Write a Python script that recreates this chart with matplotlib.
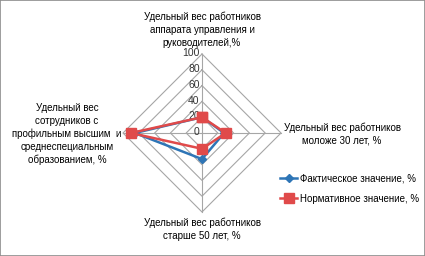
import numpy as np
import matplotlib.pyplot as plt

plt.rcParams['font.family'] = ['Liberation Sans', 'DejaVu Sans']

# категории по часовой стрелке, начиная сверху
kategorie = [
    'Удельный вес работников\nаппарата управления и\nруководителей,%',
    'Удельный вес работников\nмоложе 30 лет, %',
    'Удельный вес работников\nстарше 50 лет, %',
    'Удельный вес\nсотрудников с\nпрофильным высшим  и\nсреднеспециальным\nобразованием, %',
]
fakt = [20, 28, 33, 85]
norma = [20, 30, 20, 90]
poziomy = [0, 20, 40, 60, 80, 100]
serie_nazwy = ['Фактическое значение, %', 'Нормативное значение, %']

W, H = 425, 256
CX, CY, R = 202, 123, 79  # środek wykresu w pikselach (od dołu)

fig = plt.figure(figsize=(W / 100, H / 100), dpi=100)
ax = fig.add_axes([0, 0, 1, 1])
s = 100 / R
ax.set_xlim(-CX * s, (W - CX) * s)
ax.set_ylim(-CY * s, (H - CY) * s)
ax.axis('off')

n = len(kategorie)
kat = np.pi / 2 - np.arange(n) * 2 * np.pi / n


def xy(vals):
    v = np.asarray(vals, dtype=float)
    x = v * np.cos(kat)
    y = v * np.sin(kat)
    return np.append(x, x[0]), np.append(y, y[0])


# siatka wielokątna
for p in poziomy[1:]:
    gx, gy = xy([p] * n)
    ax.plot(gx, gy, color='#A6A6A6', lw=0.8, zorder=1)
for a in kat:
    ax.plot([0, 100 * np.cos(a)], [0, 100 * np.sin(a)], color='#A6A6A6', lw=0.8, zorder=1)

# etykiety osi
for p in poziomy:
    ax.text(-3, p + 1, str(p), ha='right', va='center', fontsize=7.5, color='#333333')

# serie
fx, fy = xy(fakt)
nx, ny = xy(norma)
ax.plot(fx, fy, color='#2E75B6', lw=1.8, marker='D', ms=4, zorder=3, label=serie_nazwy[0])
ax.plot(nx, ny, color='#E04A4A', lw=1.8, marker='s', ms=7, zorder=4, label=serie_nazwy[1])

# podpisy kategorii
txt = dict(ha='center', va='center', fontsize=7, linespacing=1.35)
ax.text(0, (256 - 30 - CY) * s, kategorie[0], **txt)
ax.text((342 - CX) * s, (256 - 134 - CY) * s, kategorie[1], **txt)
ax.text(0, (256 - 229 - CY) * s, kategorie[2], **txt)
ax.text((67 - CX) * s, (256 - 134 - CY) * s, kategorie[3], **txt)

ax.legend(loc='upper left', bbox_to_anchor=(276 / W, 1 - 170 / H), frameon=False,
          fontsize=7, handlelength=1.8, handletextpad=0.3, labelspacing=1.0, borderaxespad=0)

# ramka
fig.patches.append(plt.Rectangle((0, 0), 1, 1, transform=fig.transFigure, fill=False,
                                 edgecolor='#8C8C8C', lw=1.2))

fig.savefig('out.png', dpi=100)
